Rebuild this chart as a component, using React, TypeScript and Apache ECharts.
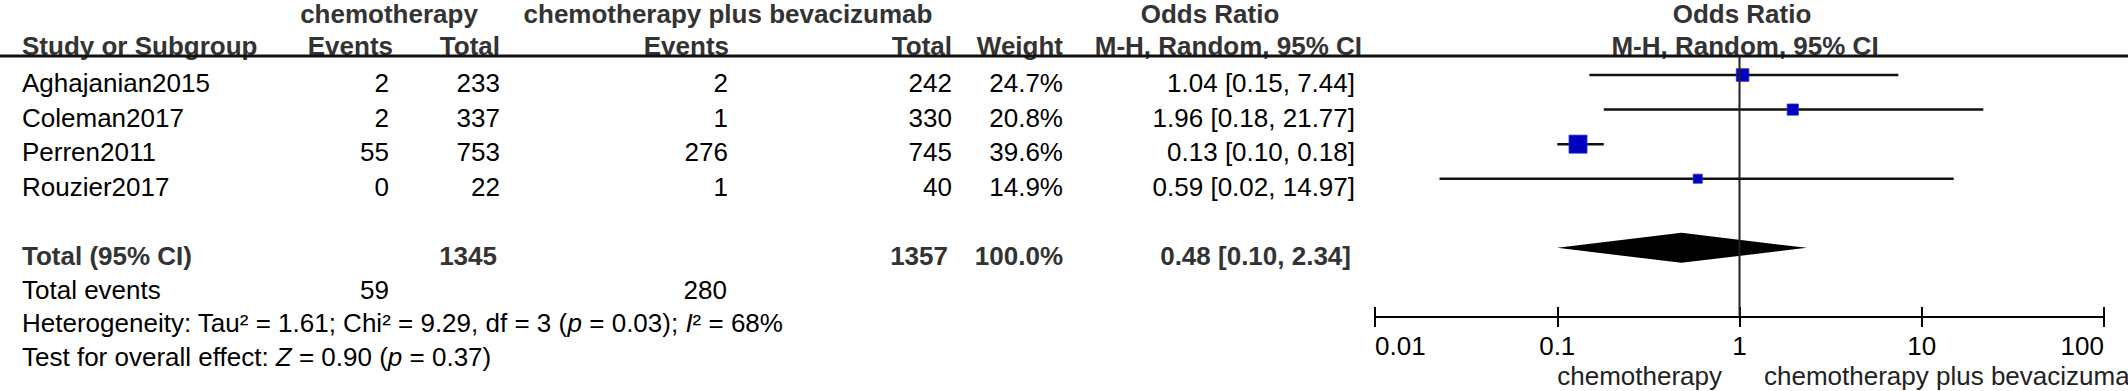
import React, { useEffect, useRef } from "react";
import * as echarts from "echarts";

// ---------------- data ----------------
const studies = ["Aghajanian2015", "Coleman2017", "Perren2011", "Rouzier2017"];
const eventsChemo = [2, 2, 55, 0];
const totalChemo = [233, 337, 753, 22];
const eventsBev = [2, 1, 276, 1];
const totalBev = [242, 330, 745, 40];
const weights = [24.7, 20.8, 39.6, 14.9];
const oddsRatio = [1.04, 1.96, 0.13, 0.59];
const ciLower = [0.15, 0.18, 0.1, 0.0226];
const ciUpper = [7.44, 21.77, 0.18, 14.97];

const pooledOR = [0.48];
const pooledLower = [0.1];
const pooledUpper = [2.34];
const pooledTotals = [1345, 1357];
const pooledEvents = [59, 280];
const pooledWeight = [100.0];

const tickLabels = ["0.01", "0.1", "1", "10", "100"];
const groupNames = ["chemotherapy", "chemotherapy plus bevacizumab"];
const heterogeneityText =
  "Heterogeneity: Tau² = 1.61; Chi² = 9.29, df = 3 ({i|p} = 0.03); {i|I}² = 68%";
const overallText = "Test for overall effect: {i|Z} = 0.90 ({i|p} = 0.37)";

// ---------------- layout ----------------
const W = 2128;
const H = 391;
const FONT = '"Liberation Sans", Arial, Helvetica, sans-serif';
const FS = 26;
const GRID_TOP = 56;
const GRID_BOTTOM = 317;
const Y_MIN = -0.55;
const Y_MAX = 7.0;
const ROW = (GRID_BOTTOM - GRID_TOP) / (Y_MAX - Y_MIN);
const rowY = (i: number) => GRID_TOP + (i - Y_MIN) * ROW + 8;
const TOTAL_ROW = 5;

const COL = {
  study: 22,
  ev1: 391,
  tot1: 500,
  ev2: 728,
  tot2: 952,
  weight: 1063,
  or: 1355,
};

const fmtCI = (o: number, l: number, h: number) =>
  `${o.toFixed(2)} [${l.toFixed(2)}, ${h.toFixed(2)}]`;

function txt(
  text: string,
  x: number,
  y: number,
  align: "left" | "right" | "center",
  bold = false,
  color = "#000",
  rich?: any
) {
  return {
    type: "text",
    x,
    y,
    silent: true,
    style: {
      text,
      fontSize: FS,
      fontFamily: FONT,
      fontWeight: bold ? "bold" : "normal",
      fill: color,
      align,
      verticalAlign: "middle",
      textAlign: align,
      textVerticalAlign: "middle",
      rich,
    },
  };
}

export default function App() {
  const ref = useRef<HTMLDivElement>(null);

  useEffect(() => {
    if (!ref.current) return;
    const chart = echarts.init(ref.current, null, { renderer: "svg" });

    const HEAD = "#333";
    const graphics: any[] = [];
    // header row 1
    graphics.push(txt(groupNames[0], 389, 14, "center", true, HEAD));
    graphics.push(txt(groupNames[1], 728, 14, "center", true, HEAD));
    graphics.push(txt("Odds Ratio", 1210, 14, "center", true, HEAD));
    graphics.push(txt("Odds Ratio", 1742, 14, "center", true, HEAD));
    // header row 2
    graphics.push(txt("Study or Subgroup", COL.study, 46, "left", true, HEAD));
    graphics.push(txt("Events", COL.ev1 + 2, 46, "right", true, HEAD));
    graphics.push(txt("Total", COL.tot1, 46, "right", true, HEAD));
    graphics.push(txt("Events", COL.ev2 + 1, 46, "right", true, HEAD));
    graphics.push(txt("Total", COL.tot2, 46, "right", true, HEAD));
    graphics.push(txt("Weight", COL.weight, 46, "right", true, HEAD));
    graphics.push(txt("M-H, Random, 95% CI", 1362, 46, "right", true, HEAD));
    graphics.push(txt("M-H, Random, 95% CI", 1745, 46, "center", true, HEAD));
    // header underline
    graphics.push({
      type: "line",
      silent: true,
      shape: { x1: 0, y1: GRID_TOP, x2: W, y2: GRID_TOP },
      style: { stroke: "#111", lineWidth: 3 },
    });

    // study rows
    studies.forEach((s, i) => {
      const y = rowY(i);
      graphics.push(txt(s, COL.study, y, "left"));
      graphics.push(txt(String(eventsChemo[i]), COL.ev1 - 2, y, "right"));
      graphics.push(txt(String(totalChemo[i]), COL.tot1, y, "right"));
      graphics.push(txt(String(eventsBev[i]), COL.ev2, y, "right"));
      graphics.push(txt(String(totalBev[i]), COL.tot2, y, "right"));
      graphics.push(txt(`${weights[i].toFixed(1)}%`, COL.weight, y, "right"));
      graphics.push(
        txt(fmtCI(oddsRatio[i], ciLower[i], ciUpper[i]), COL.or, y, "right")
      );
    });

    // total row
    const ty = rowY(TOTAL_ROW);
    graphics.push(txt("Total (95% CI)", COL.study, ty, "left", true, HEAD));
    graphics.push(txt(String(pooledTotals[0]), COL.tot1 - 3, ty, "right", true, HEAD));
    graphics.push(txt(String(pooledTotals[1]), COL.tot2 - 4, ty, "right", true, HEAD));
    graphics.push(txt(`${pooledWeight[0].toFixed(1)}%`, COL.weight, ty, "right", true, HEAD));
    graphics.push(
      txt(fmtCI(pooledOR[0], pooledLower[0], pooledUpper[0]), COL.or - 4, ty, "right", true, HEAD)
    );
    // total events
    const ey = rowY(TOTAL_ROW + 1);
    graphics.push(txt("Total events", COL.study, ey, "left"));
    graphics.push(txt(String(pooledEvents[0]), COL.ev1 - 2, ey, "right"));
    graphics.push(txt(String(pooledEvents[1]), COL.ev2 - 1, ey, "right"));

    const italic = { i: { fontStyle: "italic", fontSize: FS, fontFamily: FONT, fill: "#000" } };
    graphics.push(txt(heterogeneityText, COL.study, rowY(TOTAL_ROW + 2) - 2, "left", false, "#000", italic));
    graphics.push(txt(overallText, COL.study, rowY(TOTAL_ROW + 3) - 3, "left", false, "#000", italic));

    // favours labels
    graphics.push(txt(groupNames[0], 1722, 376, "right", false, "#222"));
    graphics.push(txt(groupNames[1], 1764, 376, "left", false, "#222"));

    const studyData = studies.map((_, i) => [oddsRatio[i], ciLower[i], ciUpper[i], i, weights[i]]);
    const pooledData = [[pooledOR[0], pooledLower[0], pooledUpper[0], TOTAL_ROW]];

    const axisCommon = {
      type: "log",
      logBase: 10,
      min: 0.01,
      max: 100,
      position: "bottom",
      offset: 0,
      splitLine: { show: false },
    };

    const option: any = {
      animation: false,
      backgroundColor: "#fff",
      grid: {
        left: 1375,
        right: W - 2104,
        top: GRID_TOP,
        bottom: H - GRID_BOTTOM,
        containLabel: false,
      },
      xAxis: [
        {
          ...axisCommon,
          axisLine: { show: true, onZero: false, lineStyle: { color: "#000", width: 2 } },
          axisTick: { show: true, inside: false, length: 10, lineStyle: { color: "#000", width: 2 } },
          axisLabel: {
            show: true,
            fontSize: FS,
            fontFamily: FONT,
            color: "#000",
            margin: 16,
            alignMinLabel: "left",
            alignMaxLabel: "right",
            formatter: (v: number) => {
              const k = Math.round(Math.log10(v)) + 2;
              return tickLabels[k] ?? "";
            },
          },
        },
        {
          ...axisCommon,
          axisLine: { show: false, onZero: false },
          axisTick: { show: true, inside: true, length: 10, lineStyle: { color: "#000", width: 2 } },
          axisLabel: { show: false },
        },
      ],
      yAxis: {
        type: "value",
        min: Y_MIN,
        max: Y_MAX,
        inverse: true,
        show: false,
      },
      series: [
        {
          type: "line",
          silent: true,
          showSymbol: false,
          data: [
            [1, Y_MIN],
            [1, Y_MAX],
          ],
          lineStyle: { color: "#222", width: 2 },
        },
        {
          type: "custom",
          silent: true,
          encode: { x: [0, 1, 2], y: 3 },
          data: studyData,
          renderItem: (params: any, api: any) => {
            const y = api.value(3);
            const p = api.coord([api.value(0), y]);
            const l = api.coord([api.value(1), y]);
            const h = api.coord([api.value(2), y]);
            const s = 3.6 + 0.364 * api.value(4);
            return {
              type: "group",
              children: [
                {
                  type: "line",
                  shape: { x1: l[0], y1: l[1], x2: h[0], y2: h[1] },
                  style: { stroke: "#111", lineWidth: 2.5 },
                },
                {
                  type: "rect",
                  shape: { x: p[0] - s / 2, y: p[1] - s / 2, width: s, height: s },
                  style: { fill: "#0000c0", stroke: "#2a2ad0", lineWidth: 0.8 },
                },
              ],
            };
          },
        },
        {
          type: "custom",
          silent: true,
          encode: { x: [0, 1, 2], y: 3 },
          data: pooledData,
          renderItem: (params: any, api: any) => {
            const y = api.value(3);
            const p = api.coord([api.value(0), y]);
            const l = api.coord([api.value(1), y]);
            const h = api.coord([api.value(2), y]);
            const hh = 15;
            return {
              type: "polygon",
              shape: {
                points: [
                  [l[0], l[1]],
                  [p[0], p[1] - hh],
                  [h[0], h[1]],
                  [p[0], p[1] + hh],
                ],
              },
              style: { fill: "#000" },
            };
          },
        },
      ],
      graphic: graphics,
    };

    chart.setOption(option);
    return () => chart.dispose();
  }, []);

  return (
    <div
      ref={ref}
      style={{ position: "fixed", left: 0, top: 0, width: W, height: H, background: "#fff" }}
    />
  );
}
